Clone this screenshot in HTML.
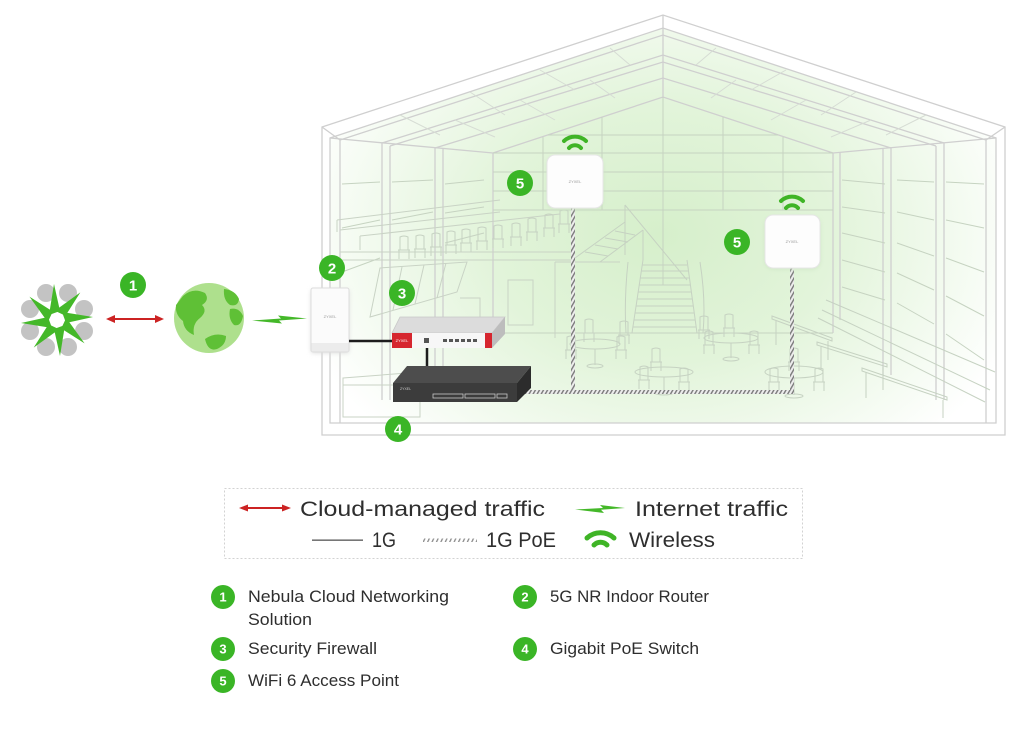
<!DOCTYPE html>
<html><head><meta charset="utf-8"><style>
html,body{margin:0;padding:0;background:#fff;width:1024px;height:741px;overflow:hidden}
svg{display:block}
text{font-family:"Liberation Sans",Arial,sans-serif}
</style></head><body>
<svg width="1024" height="741" viewBox="0 0 1024 741" xmlns="http://www.w3.org/2000/svg">
<defs>
<radialGradient id="glow" cx="660" cy="235" r="380" gradientUnits="userSpaceOnUse" gradientTransform="translate(660 235) scale(1 0.75) translate(-660 -235)">
<stop offset="0" stop-color="#d6efcb"/>
<stop offset="0.45" stop-color="#e2f4da"/>
<stop offset="0.8" stop-color="#f4fbf1"/>
<stop offset="1" stop-color="#ffffff"/>
</radialGradient>
<clipPath id="bld"><path d="M330,138 L663,28 L996,138 L996,423 L330,423 Z"/></clipPath>
<filter id="sh" x="-40%" y="-40%" width="180%" height="180%"><feGaussianBlur stdDeviation="2.5"/></filter>
<pattern id="hatch" width="3.5" height="3.5" patternUnits="userSpaceOnUse" patternTransform="rotate(30)"><rect width="3.5" height="3.5" fill="#ececec"/><rect width="1.4" height="3.5" fill="#7a7a7a"/></pattern>
<pattern id="hatch2" width="4" height="4" patternUnits="userSpaceOnUse" patternTransform="rotate(25)"><rect width="4" height="4" fill="#fff"/><rect width="1.3" height="4" fill="#8a8a8a"/></pattern>
<path id="chair" d="M0,0 v-13 q4,-2 8,0 v13 M-2,0 h12 M-1,0 v9 M9,0 v9" fill="none" stroke="#c6d2c2" stroke-width="1"/>
</defs>

<!-- glow -->
<rect x="320" y="20" width="690" height="420" fill="url(#glow)" clip-path="url(#bld)"/>

<!-- building structure -->
<g fill="none" stroke="#cfcfcf" stroke-width="1.3">
<path d="M322,127 L663,15 L1005,127 L1005,435 L322,435 Z"/>
<path d="M330,138 L663,28 L996,138 L996,423 L330,423 Z"/>
<path d="M340,140 L663,35 L986,140"/>
<path d="M382,143 L663,55 L944,143"/>
<path d="M390,146 L663,62 L936,146"/>
<path d="M435,148 L663,78 L891,148"/>
<path d="M493,153 L663,97 L833,153"/>
<path d="M322,127 L340,140 M1005,127 L986,140"/>
<path d="M330,138 L493,153 M996,138 L833,153"/>
<path d="M663,15 V97"/>
<!-- posts -->
<path d="M340,140 V423 M986,140 V423"/>
<path d="M382,143 V400 M390,146 V400"/>
<path d="M435,148 V375 M443,149 V375"/>
<path d="M944,143 V400 M936,146 V400"/>
<path d="M891,148 V375 M883,149 V375"/>
<path d="M493,153 V333 M833,153 V333 M840,152 V320"/>
</g>

<!-- ceiling panel diagonals -->
<g fill="none" stroke="#d6dcd4" stroke-width="1">
<path d="M400,115 L440,135 M470,92 L505,115 M540,70 L575,90 M610,48 L630,65"/>
<path d="M926,115 L886,135 M856,92 L821,115 M786,70 L751,90 M716,48 L696,65"/>
<path d="M455,120 L495,137 M520,100 L555,120 M590,80 L615,98"/>
<path d="M871,120 L831,137 M806,100 L771,120 M736,80 L711,98"/>
</g>

<!-- back wall grid -->
<g fill="none" stroke="#c6d3c1" stroke-width="1">
<path d="M548,135 H778 M493,153 H833 M493,172 H833 M493,191 H833 M493,210 H833"/>
<path d="M543,137 V210 M602,117 V210 M723,117 V210 M783,137 V210 M663,97 V285"/>
<path d="M493,333 H833"/>
<path d="M842,180 L885,184 M842,207 L885,213 M842,233 L885,243 M842,260 L885,272 M842,287 L885,300"/>
<path d="M897,180 L934,182 M897,212 L934,220 M897,243 L934,256 M897,273 L934,290 M897,303 L934,324"/>
<path d="M946,182 L984,184 M946,220 L984,228 M946,258 L984,272 M946,296 L984,316 M946,334 L984,360"/>
<path d="M484,180 L445,184 M484,207 L445,213 M484,233 L445,243"/>
<path d="M433,180 L392,182 M433,212 L392,220"/>
<path d="M380,182 L342,184 M380,220 L342,228 M380,258 L342,272"/>
</g>

<!-- mezzanine -->
<g fill="none" stroke="#c9d3c5" stroke-width="1">
<path d="M340,252 H572 M340,260 H572"/>
<path d="M337,220 L500,200 M340,230 L500,212 M337,220 V232"/>
<path d="M360,236 L560,214 M360,236 V250"/>
<path d="M572,215 V260"/>
</g>
<g>
<use href="#chair" x="432" y="247"/><use href="#chair" x="447" y="245"/><use href="#chair" x="462" y="243"/>
<use href="#chair" x="478" y="241"/><use href="#chair" x="494" y="239"/><use href="#chair" x="512" y="237"/>
<use href="#chair" x="528" y="232"/><use href="#chair" x="545" y="228"/><use href="#chair" x="560" y="224"/>
<use href="#chair" x="400" y="250"/><use href="#chair" x="416" y="249"/>
</g>

<!-- lower left -->
<g fill="none" stroke="#c9d3c5" stroke-width="1">
<path d="M380,268 L467,262 L457,292 L370,317 Z"/>
<path d="M402,267 L393,310 M424,265 L415,304 M446,263 L437,298"/>
<path d="M508,280 H533 V325 H508 Z"/>
<path d="M460,298 H480 V330"/>
<path d="M343,378 L420,372 V417 H343 Z M343,385 H420"/>
<path d="M555,262 V338 M555,262 H620"/>
</g>

<!-- stairs -->
<g fill="none" stroke="#c6d2c2" stroke-width="1">
<path d="M632,333 L643,260 M697,333 L687,260"/>
<path d="M626,333 Q624,300 628,262 M703,333 Q706,300 700,262"/>
<path d="M633,327 H696 M634,320 H695 M635,313 H694 M636,306 H693 M637,299 H692 M638,292 H691 M639,285 H690 M640,278 H689 M641,271 H688 M642,265 H687"/>
<path d="M575,258 L625,222 M600,262 L643,230 M643,230 V260 M625,205 L687,280 M625,205 V255"/>
<path d="M585,252 L608,256 M595,245 L618,249 M605,238 L628,242 M615,231 L635,235"/>
</g>

<!-- tables -->
<g fill="none" stroke="#c6d2c2" stroke-width="1">
<ellipse cx="595" cy="344" rx="25" ry="5"/><path d="M595,349 V365"/><ellipse cx="595" cy="366" rx="8" ry="2"/>
<ellipse cx="664" cy="372" rx="29" ry="5"/><path d="M664,377 V392"/><ellipse cx="664" cy="393" rx="9" ry="2"/>
<ellipse cx="731" cy="338" rx="27" ry="5"/><path d="M731,343 V358"/><ellipse cx="731" cy="359" rx="8" ry="2"/>
<ellipse cx="794" cy="372" rx="29" ry="6"/><path d="M794,378 V395"/><ellipse cx="794" cy="396" rx="9" ry="2"/>
<path d="M826,300 L995,372 M822,310 L990,390 M818,318 L985,402"/>
<path d="M772,316 L832,338 L832,341 L772,319 Z M776,320 V345 M828,341 V360"/>
<path d="M817,342 L887,364 L887,367 L817,345 Z M821,346 V370 M883,367 V390"/>
<path d="M862,368 L947,397 L947,400 L862,371 Z M866,372 V398 M943,400 V418"/>
</g>
<g>
<use href="#chair" x="567" y="350"/><use href="#chair" x="617" y="350"/><use href="#chair" x="585" y="333"/>
<use href="#chair" x="640" y="380"/><use href="#chair" x="680" y="382"/><use href="#chair" x="652" y="362"/>
<use href="#chair" x="705" y="345"/><use href="#chair" x="750" y="345"/><use href="#chair" x="725" y="328"/>
<use href="#chair" x="770" y="382"/><use href="#chair" x="815" y="382"/><use href="#chair" x="790" y="362"/>
<use href="#chair" x="620" y="335"/><use href="#chair" x="700" y="330"/>
</g>

<!-- PoE cables -->
<rect x="571" y="208" width="4" height="184" fill="url(#hatch)"/>
<rect x="790" y="268" width="4" height="124" fill="url(#hatch)"/>
<rect x="522" y="390" width="272" height="4" fill="url(#hatch)"/>

<!-- Access points -->
<rect x="547" y="157" width="56" height="52" rx="8" fill="#cfe6c6" filter="url(#sh)"/>
<rect x="547" y="155" width="56" height="53" rx="8" fill="#fdfdfd" stroke="#e6e6e6"/>
<text x="575" y="183" font-size="4" fill="#999" text-anchor="middle">ZYXEL</text>
<rect x="765" y="217" width="55" height="52" rx="8" fill="#cfe6c6" filter="url(#sh)"/>
<rect x="765" y="215" width="55" height="53" rx="8" fill="#fdfdfd" stroke="#e6e6e6"/>
<text x="792" y="243" font-size="4" fill="#999" text-anchor="middle">ZYXEL</text>

<!-- wifi icons -->
<g fill="none" stroke="#3fb426" stroke-width="4" stroke-linecap="round">
<path d="M564,141 A16,16 0 0 1 586,141"/>
<path d="M569,148 A8,8 0 0 1 581,148"/>
<path d="M781,201 A16,16 0 0 1 803,201"/>
<path d="M786,208 A8,8 0 0 1 798,208"/>
</g>

<!-- Router -->
<rect x="311" y="290" width="38" height="63" rx="2" fill="#ddd" filter="url(#sh)"/>
<rect x="311" y="288" width="38" height="64" rx="2" fill="#fbfbfb" stroke="#dcdcdc"/>
<rect x="311.5" y="343" width="37" height="8.5" fill="#ececec"/>
<text x="330" y="318" font-size="4" fill="#999" text-anchor="middle">ZYXEL</text>

<!-- cables 1G -->
<path d="M349,341 H393 M427,347 V368" stroke="#1d1d1d" stroke-width="2.5" fill="none"/>

<!-- Firewall -->
<polygon points="400,317 505,317 492,333 392,333" fill="#dcdcdc" stroke="#c8c8c8" stroke-width="0.8"/>
<polygon points="492,333 505,317 505,334 492,348" fill="#bdbdbd"/>
<rect x="392" y="333" width="100" height="15" fill="#f7f7f7"/>
<rect x="392" y="333" width="20" height="15" fill="#d6262f"/>
<rect x="485" y="333" width="7" height="15" fill="#d6262f"/>
<text x="402" y="342" font-size="4" fill="#fff" text-anchor="middle">ZYXEL</text>
<rect x="424" y="338" width="5" height="5" fill="#555"/>
<g fill="#555"><rect x="443" y="339" width="4" height="3"/><rect x="449" y="339" width="4" height="3"/><rect x="455" y="339" width="4" height="3"/><rect x="461" y="339" width="4" height="3"/><rect x="467" y="339" width="4" height="3"/><rect x="473" y="339" width="4" height="3"/></g>

<!-- Switch -->
<polygon points="407,366 531,366 517,383 393,383" fill="#4d4d4d"/>
<polygon points="517,383 531,366 531,388 517,402" fill="#2c2c2c"/>
<rect x="393" y="383" width="124" height="19" fill="#3c3c3c"/>
<text x="400" y="390" font-size="3.5" fill="#ccc">ZYXEL</text>
<g fill="none" stroke="#c9c9c9" stroke-width="0.8">
<rect x="433" y="394" width="30" height="4"/><rect x="465" y="394" width="30" height="4"/><rect x="497" y="394" width="10" height="4"/>
</g>

<!-- Nebula logo -->
<g transform="translate(57,320)">
<g fill="#c3c3c3">
<circle cx="27" cy="11" r="9"/><circle cx="11" cy="27" r="9"/><circle cx="-11" cy="27" r="9"/><circle cx="-27" cy="11" r="9"/>
<circle cx="-27" cy="-11" r="9"/><circle cx="-11" cy="-27" r="9"/><circle cx="11" cy="-27" r="9"/><circle cx="27" cy="-11" r="9"/>
</g>
<circle r="19" fill="#fff"/>
<g fill="#44b829">
<path id="blade" d="M36,-3 L5,-8 L9,3 Z"/>
<use href="#blade" transform="rotate(45)"/><use href="#blade" transform="rotate(90)"/><use href="#blade" transform="rotate(135)"/>
<use href="#blade" transform="rotate(180)"/><use href="#blade" transform="rotate(225)"/><use href="#blade" transform="rotate(270)"/><use href="#blade" transform="rotate(315)"/>
</g>
<circle r="5" fill="#fff"/>
</g>

<!-- Red cloud arrow -->
<g fill="#cc2323">
<rect x="113" y="318" width="44" height="2"/>
<polygon points="106,319 115,315 115,323"/>
<polygon points="164,319 155,315 155,323"/>
</g>

<!-- Globe -->
<circle cx="209" cy="318" r="35" fill="#aee08d"/>
<g fill="#5fc036">
<path d="M183,296 q10,-9 22,-3 q5,7 -3,12 q6,6 -2,13 q-8,6 -6,17 q-10,-4 -11,-14 q-8,-6 -7,-16 z"/>
<path d="M224,289 q11,1 15,10 q-1,8 -9,6 q-7,-5 -6,-16 z"/>
<path d="M230,309 q9,-2 13,7 q-2,11 -9,9 q-6,-6 -4,-16 z"/>
<path d="M205,339 q10,-7 21,-3 q0,9 -9,13 q-9,3 -12,-10 z"/>
</g>

<!-- Internet bolt -->
<polygon points="252,320.5 281,318.5 278,315.5 307,318.5 279,320.5 282,323.5" fill="#44b829"/>

<!-- diagram badges -->
<g fill="#3ab526">
<circle cx="133" cy="285" r="13"/><circle cx="332" cy="268" r="13"/><circle cx="402" cy="293" r="13"/>
<circle cx="398" cy="429" r="13"/><circle cx="520" cy="183" r="13"/><circle cx="737" cy="242" r="13"/>
</g>
<g fill="#fff" font-size="15" font-weight="bold" text-anchor="middle">
<text x="133" y="290.5">1</text><text x="332" y="273.5">2</text><text x="402" y="298.5">3</text>
<text x="398" y="434.5">4</text><text x="520" y="188.5">5</text><text x="737" y="247.5">5</text>
</g>

<!-- Legend box -->
<rect x="224.5" y="488.5" width="578" height="70" fill="none" stroke="#d2d2d2" stroke-dasharray="2 2"/>
<g fill="#cc2323">
<rect x="246" y="507" width="38" height="2"/>
<polygon points="239,508 248,504.5 248,511.5"/>
<polygon points="291,508 282,504.5 282,511.5"/>
</g>
<polygon points="575,509.5 603,508 600,505 625,508 601,509.8 604,513" fill="#44b829"/>
<rect x="312" y="539.5" width="51" height="1.3" fill="#555"/>
<rect x="423" y="538.5" width="54" height="3.5" fill="url(#hatch2)"/>
<g fill="none" stroke="#3fb426" stroke-width="5" stroke-linecap="round">
<path d="M587,538 A20,20 0 0 1 614,538"/>
<path d="M594,545 A9,9 0 0 1 607,545"/>
</g>
<g fill="#2e2e2e" font-size="21">
<text x="300" y="516" textLength="245" lengthAdjust="spacingAndGlyphs">Cloud-managed traffic</text>
<text x="635" y="516" textLength="153" lengthAdjust="spacingAndGlyphs">Internet traffic</text>
<text x="372" y="547" textLength="24" lengthAdjust="spacingAndGlyphs">1G</text>
<text x="486" y="547" textLength="70" lengthAdjust="spacingAndGlyphs">1G PoE</text>
<text x="629" y="547" textLength="86" lengthAdjust="spacingAndGlyphs">Wireless</text>
</g>

<!-- List -->
<g fill="#3ab526">
<circle cx="223" cy="597" r="12"/><circle cx="223" cy="649" r="12"/><circle cx="223" cy="681" r="12"/>
<circle cx="525" cy="597" r="12"/><circle cx="525" cy="649" r="12"/>
</g>
<g fill="#fff" font-size="13" font-weight="bold" text-anchor="middle">
<text x="223" y="601.5">1</text><text x="223" y="653.5">3</text><text x="223" y="685.5">5</text>
<text x="525" y="601.5">2</text><text x="525" y="653.5">4</text>
</g>
<g fill="#2e2e2e" font-size="16.5">
<text x="248" y="602" textLength="201" lengthAdjust="spacingAndGlyphs">Nebula Cloud Networking</text>
<text x="248" y="625" textLength="64" lengthAdjust="spacingAndGlyphs">Solution</text>
<text x="248" y="654" textLength="129" lengthAdjust="spacingAndGlyphs">Security Firewall</text>
<text x="248" y="686" textLength="151" lengthAdjust="spacingAndGlyphs">WiFi 6 Access Point</text>
<text x="550" y="602" textLength="159" lengthAdjust="spacingAndGlyphs">5G NR Indoor Router</text>
<text x="550" y="654" textLength="149" lengthAdjust="spacingAndGlyphs">Gigabit PoE Switch</text>
</g>
</svg>
</body></html>
